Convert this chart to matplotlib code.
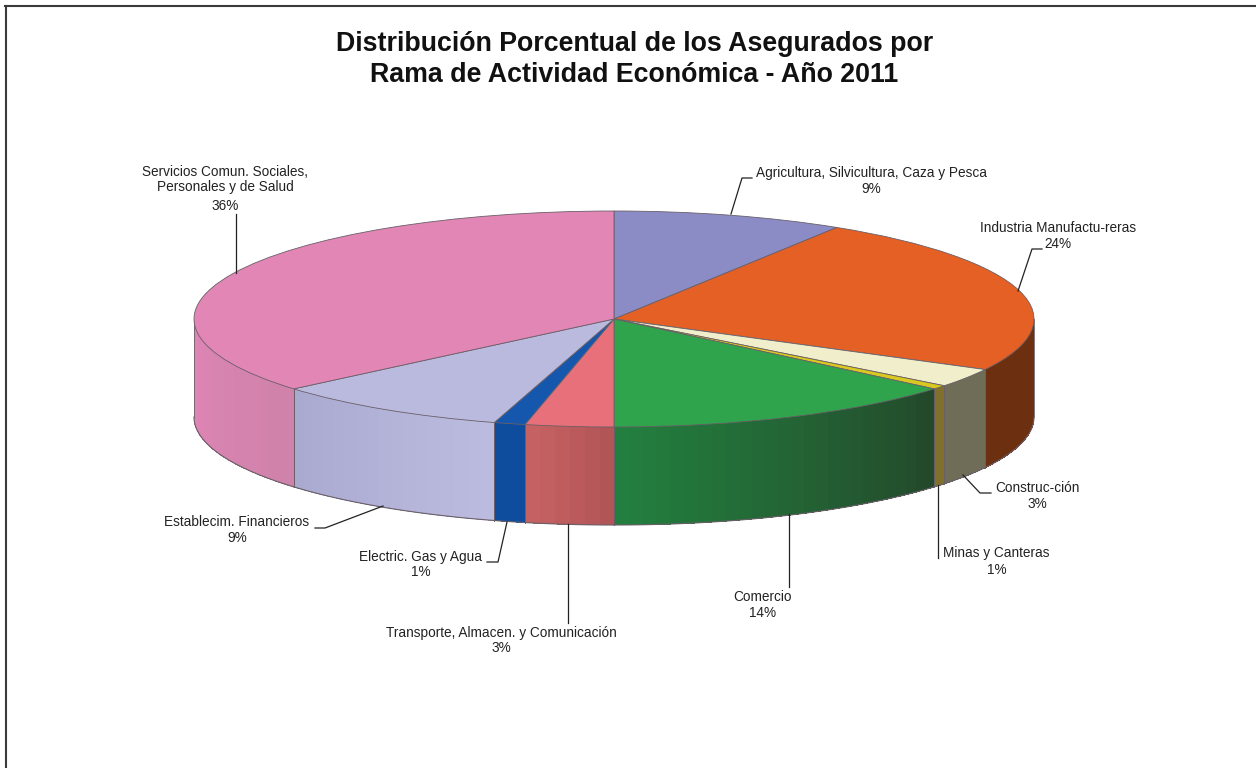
import numpy as np
import matplotlib
matplotlib.use("Agg")
import matplotlib.pyplot as plt
from matplotlib.lines import Line2D

TITLE = "Distribución Porcentual de los Asegurados por\nRama de Actividad Económica - Año 2011"
categories = ["Agricultura, Silvicultura, Caza y Pesca", "Industria Manufactu-reras", "Construc-ción",
              "Minas y Canteras", "Comercio", "Transporte, Almacen. y Comunicación",
              "Electric. Gas y Agua", "Establecim. Financieros",
              "Servicios Comun. Sociales,\nPersonales y de Salud"]
values = [8.9, 23.85, 2.85, 0.6, 13.8, 3.4, 1.2, 9.2, 36.2]
percent_labels = ["9%", "24%", "3%", "1%", "14%", "3%", "1%", "9%", "36%"]
top_colors = ["#8b8bc6", "#e46025", "#f0eecb", "#d9c820", "#2fa44c", "#e8707a", "#1557ad", "#babade", "#e286b6"]
wall_left = ["#8b8bc6", "#6c3010", "#6f6c58", "#80702c", "#23803f", "#c86264", "#0e4d9e", "#a9a9d0", "#e085b5"]
wall_right = ["#8b8bc6", "#6c3010", "#6f6c58", "#80702c", "#23482a", "#b05456", "#0e4d9e", "#bcbce0", "#cf82aa"]

W, H = 1256, 768
CX, CY, RX, RY, DEPTH = 614, 319, 420, 108, 98

plt.rcParams["font.family"] = ["Liberation Sans", "DejaVu Sans"]
fig = plt.figure(figsize=(W / 100, H / 100), dpi=100, facecolor="white")
ax = fig.add_axes([0, 0, 1, 1])


def px(x, y):
    return (x - CX) / RX, (CY - y) / RY


EDGE = "#6a5f68"
depth = DEPTH / RY
fracs = np.array(values) / sum(values)
ends = np.cumsum(fracs) * 2 * np.pi
starts = ends - fracs * 2 * np.pi

# side wall, seen only on the front half of the ellipse
for s, e, cl, cr in zip(starts, ends, wall_left, wall_right):
    a, b = max(s, np.pi / 2), min(e, 3 * np.pi / 2)
    if b <= a:
        continue
    n = max(2, int((b - a) * 30))
    grid = np.linspace(a, b, n + 1)
    c_r = np.array(matplotlib.colors.to_rgb(cr))
    c_l = np.array(matplotlib.colors.to_rgb(cl))
    for i in range(n):
        t = np.linspace(grid[i], grid[i + 1], 6)
        xs, ys = np.sin(t), np.cos(t)
        mix = (i + 0.5) / n  # 0 = right end of the slice, 1 = left end
        col = c_r * (1 - mix) + c_l * mix
        ax.fill(np.r_[xs, xs[::-1]], np.r_[ys, ys[::-1] - depth], color=col, lw=0, antialiased=False, zorder=1)
    t = np.linspace(a, b, 60)
    ax.plot(np.sin(t), np.cos(t) - depth, color=EDGE, lw=0.8, zorder=2)
    for ang in (a, b):
        ax.plot([np.sin(ang)] * 2, [np.cos(ang), np.cos(ang) - depth], color=EDGE, lw=0.6, zorder=2)

wedges, _ = ax.pie(values, colors=top_colors, startangle=90, counterclock=False, radius=1,
                   wedgeprops=dict(edgecolor=EDGE, linewidth=0.6, zorder=3))

ax.set_aspect("auto")
ax.set_xlim((0 - CX) / RX, (W - CX) / RX)
ax.set_ylim((CY - H) / RY, CY / RY)
ax.axis("off")

# layout of label text: centre x, y of each text line, leader polyline in pixels
layout = [
    (871.5, [173, 189], [(752, 178), (742, 178), (731, 214)]),
    (1058, [228, 244], [(1042, 249), (1032, 249), (1018, 291)]),
    (1037, [488, 504], [(991, 493), (980, 493), (963, 475)]),
    (996.5, [553, 570], [(938, 558), (938, 485)]),
    (763, [597, 613], [(789, 587), (789, 514)]),
    (501, [633, 648], [(568, 623), (568, 524)]),
    (421, [557, 572], [(487, 562), (498, 562), (507, 522)]),
    (237, [522, 538], [(315, 528), (325, 528), (383, 506)]),
    (225, [172, 187, 206], [(236, 214), (236, 273)]),
]
for cat, pct, (tx, ys, leader) in zip(categories, percent_labels, layout):
    for line, y in zip(cat.split("\n") + [pct], ys):
        ax.text(*px(tx, y), line, ha="center", va="center", fontsize=9.8, color="#222222", zorder=6)
    pts = np.array([px(*p) for p in leader])
    ax.plot(pts[:, 0], pts[:, 1], color="#222222", lw=0.9, zorder=5)

fig.text(634.5 / W, 1 - 59.5 / H, TITLE, ha="center", va="center", fontsize=19.3, fontweight="bold",
         color="#111111", linespacing=1.25)

# frame: only the left and top sides are in the picture
fig.add_artist(Line2D([6 / W, 6 / W], [0, 1 - 6 / H], transform=fig.transFigure, color="#3a3a3a", lw=1.5))
fig.add_artist(Line2D([5 / W, 1], [1 - 6 / H, 1 - 6 / H], transform=fig.transFigure, color="#3a3a3a", lw=1.5))
fig.savefig("out.png", dpi=100, facecolor="white")
